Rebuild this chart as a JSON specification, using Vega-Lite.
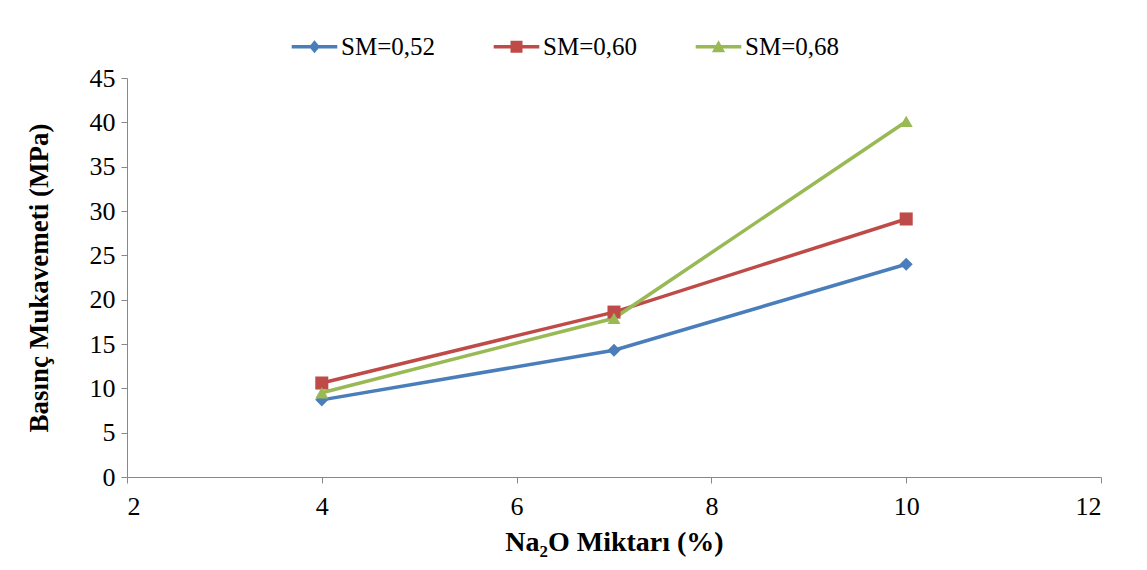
{
  "$schema": "https://vega.github.io/schema/vega-lite/v6.json",
  "width": 974,
  "height": 399,
  "autosize": {"type": "none"},
  "padding": {"left": 127, "top": 78, "right": 46, "bottom": 93},
  "background": "white",
  "config": {
    "view": {"stroke": null},
    "font": "Liberation Serif",
    "axis": {
      "grid": false,
      "domainColor": "#888888",
      "tickColor": "#888888",
      "tickSize": 6,
      "labelFont": "Liberation Serif",
      "titleFont": "Liberation Serif",
      "labelFontSize": 26,
      "labelColor": "#000000",
      "titleFontSize": 27,
      "titleFontWeight": "bold",
      "titleColor": "#000000"
    }
  },
  "data": {
    "values": [
      {"na2o": 4, "mpa": 8.7, "seri": "SM=0,52"},
      {"na2o": 7, "mpa": 14.3, "seri": "SM=0,52"},
      {"na2o": 10, "mpa": 24.0, "seri": "SM=0,52"},
      {"na2o": 4, "mpa": 10.6, "seri": "SM=0,60"},
      {"na2o": 7, "mpa": 18.6, "seri": "SM=0,60"},
      {"na2o": 10, "mpa": 29.1, "seri": "SM=0,60"},
      {"na2o": 4, "mpa": 9.5, "seri": "SM=0,68"},
      {"na2o": 7, "mpa": 17.9, "seri": "SM=0,68"},
      {"na2o": 10, "mpa": 40.1, "seri": "SM=0,68"}
    ]
  },
  "encoding": {
    "x": {
      "field": "na2o", "type": "quantitative",
      "scale": {"domain": [2, 12], "nice": false, "zero": false},
      "axis": {"values": [2, 4, 6, 8, 10, 12], "title": "Na₂O Miktarı (%)", "titleFontSize": 28, "labelPadding": 10, "titlePadding": 9}
    },
    "y": {
      "field": "mpa", "type": "quantitative",
      "scale": {"domain": [0, 45], "nice": false},
      "axis": {"values": [0, 5, 10, 15, 20, 25, 30, 35, 40, 45], "title": "Basınç Mukavemeti (MPa)", "labelPadding": 6, "titlePadding": 36}
    }
  },
  "layer": [
    {
      "mark": {"type": "line", "strokeWidth": 3.5},
      "encoding": {
        "color": {
          "field": "seri", "type": "nominal", "legend": null,
          "scale": {"domain": ["SM=0,52", "SM=0,60", "SM=0,68"], "range": ["#4A7EBB", "#BE4B48", "#98B954"]}
        }
      }
    },
    {
      "mark": {"type": "point", "filled": true, "opacity": 1, "size": 170},
      "encoding": {
        "color": {"field": "seri", "type": "nominal", "legend": null},
        "shape": {
          "field": "seri", "type": "nominal", "legend": null,
          "scale": {"domain": ["SM=0,52", "SM=0,60", "SM=0,68"], "range": ["diamond", "square", "triangle-up"]}
        }
      }
    },
    {
      "transform": [{"filter": "datum.na2o > 100"}],
      "mark": {"type": "point", "filled": true, "opacity": 1, "size": 144},
      "encoding": {
        "color": {
          "field": "seri", "type": "nominal",
          "legend": {
            "title": null,
            "orient": "none",
            "legendX": 175,
            "legendY": -44,
            "direction": "horizontal",
            "columns": 3,
            "symbolSize": 144,
            "symbolStrokeWidth": 0,
            "labelFont": "Liberation Serif",
            "labelFontSize": 25,
            "labelColor": "#000000",
            "labelOffset": 14,
            "columnPadding": 58
          }
        },
        "shape": {
          "field": "seri", "type": "nominal",
          "scale": {
            "domain": ["SM=0,52", "SM=0,60", "SM=0,68"],
            "range": [
              "M-3.8,-0.3H3.8V0.3H-3.8Z M0,-1.1L0.9,0L0,1.1L-0.9,0Z",
              "M-3.8,-0.3H3.8V0.3H-3.8Z M-1,-1H1V1H-1Z",
              "M-3.8,-0.3H3.8V0.3H-3.8Z M0,-1.1L1.1,0.9H-1.1Z"
            ]
          },
          "legend": {
            "title": null,
            "orient": "none",
            "legendX": 175,
            "legendY": -44,
            "direction": "horizontal",
            "columns": 3,
            "symbolSize": 144,
            "symbolStrokeWidth": 0,
            "labelFont": "Liberation Serif",
            "labelFontSize": 25,
            "labelColor": "#000000",
            "labelOffset": 14,
            "columnPadding": 58
          }
        }
      }
    }
  ],
  "resolve": {"scale": {"shape": "independent"}, "legend": {"shape": "independent", "color": "independent"}}
}
